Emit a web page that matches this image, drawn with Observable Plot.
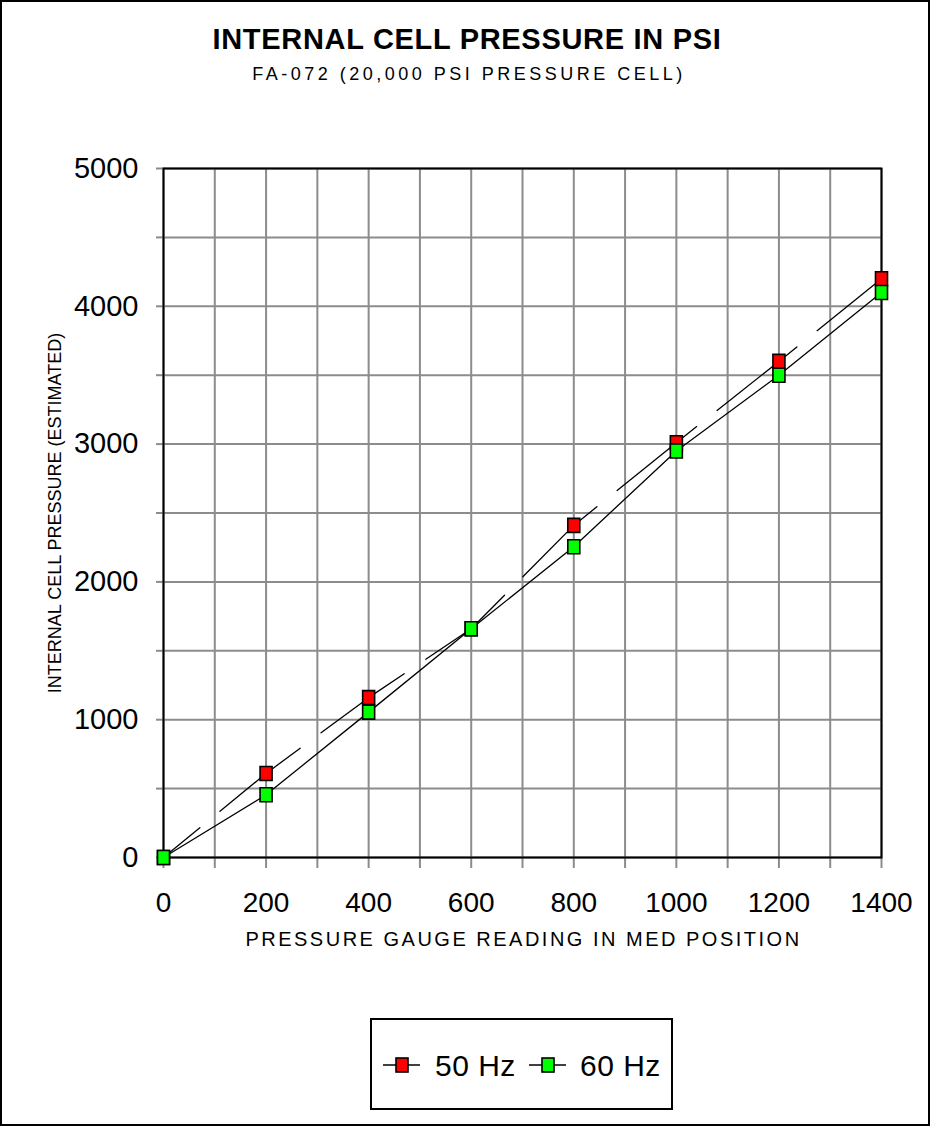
<!DOCTYPE html>
<html>
<head>
<meta charset="utf-8">
<script src="https://cdn.jsdelivr.net/npm/d3@7"></script>
<script src="https://cdn.jsdelivr.net/npm/@observablehq/plot@0.6"></script>
<style>
  html, body { margin: 0; padding: 0; background: #fff; }
  #page { position: relative; width: 930px; height: 1126px; overflow: hidden; background: #fff;
          font-family: "Liberation Sans", Arial, sans-serif; color: #000; }
  #border { position: absolute; left: 0; top: 0; width: 930px; height: 1126px; box-sizing: border-box;
            border: 2px solid #000; pointer-events: none; }
  .t { position: absolute; white-space: nowrap; line-height: 1; }
  #title { top: 25px; left: 0; width: 934px; text-align: center; font-size: 29px; font-weight: bold; letter-spacing: 0.7px; }
  #subtitle { top: 64.5px; left: 0; width: 938px; text-align: center; font-size: 18px; letter-spacing: 3.5px; }
  #xlabel { top: 929px; left: 0; width: 1047px; text-align: center; font-size: 20px; letter-spacing: 2.5px; }
  #ylabel { top: 504px; left: -145px; width: 400px; text-align: center; font-size: 18px; transform: rotate(-90deg); }
  #chart { position: absolute; left: 0; top: 100px; }
  #legend { position: absolute; left: 370px; top: 1018px; width: 303px; height: 92px; box-sizing: border-box; border: 2px solid #000; }
  .sw { position: absolute; }
  .lt { position: absolute; font-size: 30px; line-height: 1; white-space: nowrap; letter-spacing: 0.5px; }
</style>
</head>
<body>
<div id="page">
  <div id="title" class="t">INTERNAL CELL PRESSURE IN PSI</div>
  <div id="subtitle" class="t">FA-072 (20,000 PSI PRESSURE CELL)</div>
  <div id="chart"></div>
  <div id="xlabel" class="t">PRESSURE GAUGE READING IN MED POSITION</div>
  <div id="ylabel" class="t">INTERNAL CELL PRESSURE (ESTIMATED)</div>
  <div id="legend"></div>
  <div id="border"></div>
</div>
<script>
// ---- data ----
const gaugeReading = [0, 200, 400, 600, 800, 1000, 1200, 1400];
const pressure50Hz = [0, 610, 1160, 1660, 2410, 3010, 3600, 4200];
const pressure60Hz = [0, 455, 1055, 1660, 2255, 2950, 3500, 4100];
const seriesNames = ["50 Hz", "60 Hz"];
const seriesColors = ["#ff0000", "#00ff00"];
const xTickLabels = [0, 200, 400, 600, 800, 1000, 1200, 1400];
const yTickLabels = [0, 1000, 2000, 3000, 4000, 5000];
const xGrid = [0, 100, 200, 300, 400, 500, 600, 700, 800, 900, 1000, 1100, 1200, 1300, 1400];
const yGrid = [0, 500, 1000, 1500, 2000, 2500, 3000, 3500, 4000, 4500, 5000];

const data50 = gaugeReading.map((x, i) => ({x, y: pressure50Hz[i]}));
const data60 = gaugeReading.map((x, i) => ({x, y: pressure60Hz[i]}));

const tallSquare = { draw(ctx) { ctx.rect(-6, -7, 12, 14); ctx.closePath(); } };
const gridColor = "#8c8c8c";

const chart = Plot.plot({
  width: 930,
  height: 880,
  marginLeft: 163,
  marginRight: 49,
  marginTop: 68,
  marginBottom: 123,
  style: { fontFamily: "'Liberation Sans', Arial, sans-serif", fontSize: "30px", background: "transparent", overflow: "visible" },
  x: { domain: [0, 1400], label: null },
  y: { domain: [0, 5000], label: null },
  marks: [
    Plot.gridX(xGrid, { stroke: gridColor, strokeOpacity: 1, strokeWidth: 2 }),
    Plot.gridY(yGrid, { stroke: gridColor, strokeOpacity: 1, strokeWidth: 2 }),
    Plot.axisX(xGrid, {
      tickSize: 11, tickPadding: 24, stroke: gridColor, strokeWidth: 2, fontSize: 28, fill: "#000",
      tickFormat: d => xTickLabels.includes(d) ? String(d) : ""
    }),
    Plot.axisY(yGrid, {
      tickSize: 7, tickPadding: 18, stroke: gridColor, strokeWidth: 2, fontSize: 29, fill: "#000",
      tickFormat: d => yTickLabels.includes(d) ? String(d) : ""
    }),
    Plot.frame({ stroke: "#000", strokeWidth: 2 }),
    Plot.line(data50, { x: "x", y: "y", stroke: "#000", strokeWidth: 1.3, strokeDasharray: "102,26", strokeDashoffset: 55 }),
    Plot.line(data60, { x: "x", y: "y", stroke: "#000", strokeWidth: 1.3 }),
    Plot.dot(data50, { x: "x", y: "y", symbol: tallSquare, r: 7, fill: seriesColors[0], fillOpacity: 1, stroke: "#000", strokeWidth: 1.6 }),
    Plot.dot(data60, { x: "x", y: "y", symbol: tallSquare, r: 7, fill: seriesColors[1], fillOpacity: 1, stroke: "#000", strokeWidth: 1.6 })
  ]
});
document.getElementById("chart").appendChild(chart);

// ---- legend ----
const legend = document.getElementById("legend");
const items = [
  { name: seriesNames[0], color: seriesColors[0], swX: 10, txtX: 63 },
  { name: seriesNames[1], color: seriesColors[1], swX: 156, txtX: 208 }
];
for (const it of items) {
  const sw = document.createElementNS("http://www.w3.org/2000/svg", "svg");
  sw.setAttribute("class", "sw");
  sw.setAttribute("width", 40);
  sw.setAttribute("height", 20);
  sw.style.left = it.swX + "px";
  sw.style.top = (1065 - 1018 - 2 - 10) + "px";
  sw.innerHTML = `<line x1="1" x2="38" y1="10" y2="10" stroke="#000" stroke-width="1.5"/>` +
                 `<rect x="14" y="3" width="12" height="14" fill="${it.color}" stroke="#000" stroke-width="1.6"/>`;
  legend.appendChild(sw);
  const t = document.createElement("div");
  t.className = "lt";
  t.textContent = it.name;
  t.style.left = it.txtX + "px";
  t.style.top = (1050.5 - 1018 - 2) + "px";
  legend.appendChild(t);
}
</script>
</body>
</html>
